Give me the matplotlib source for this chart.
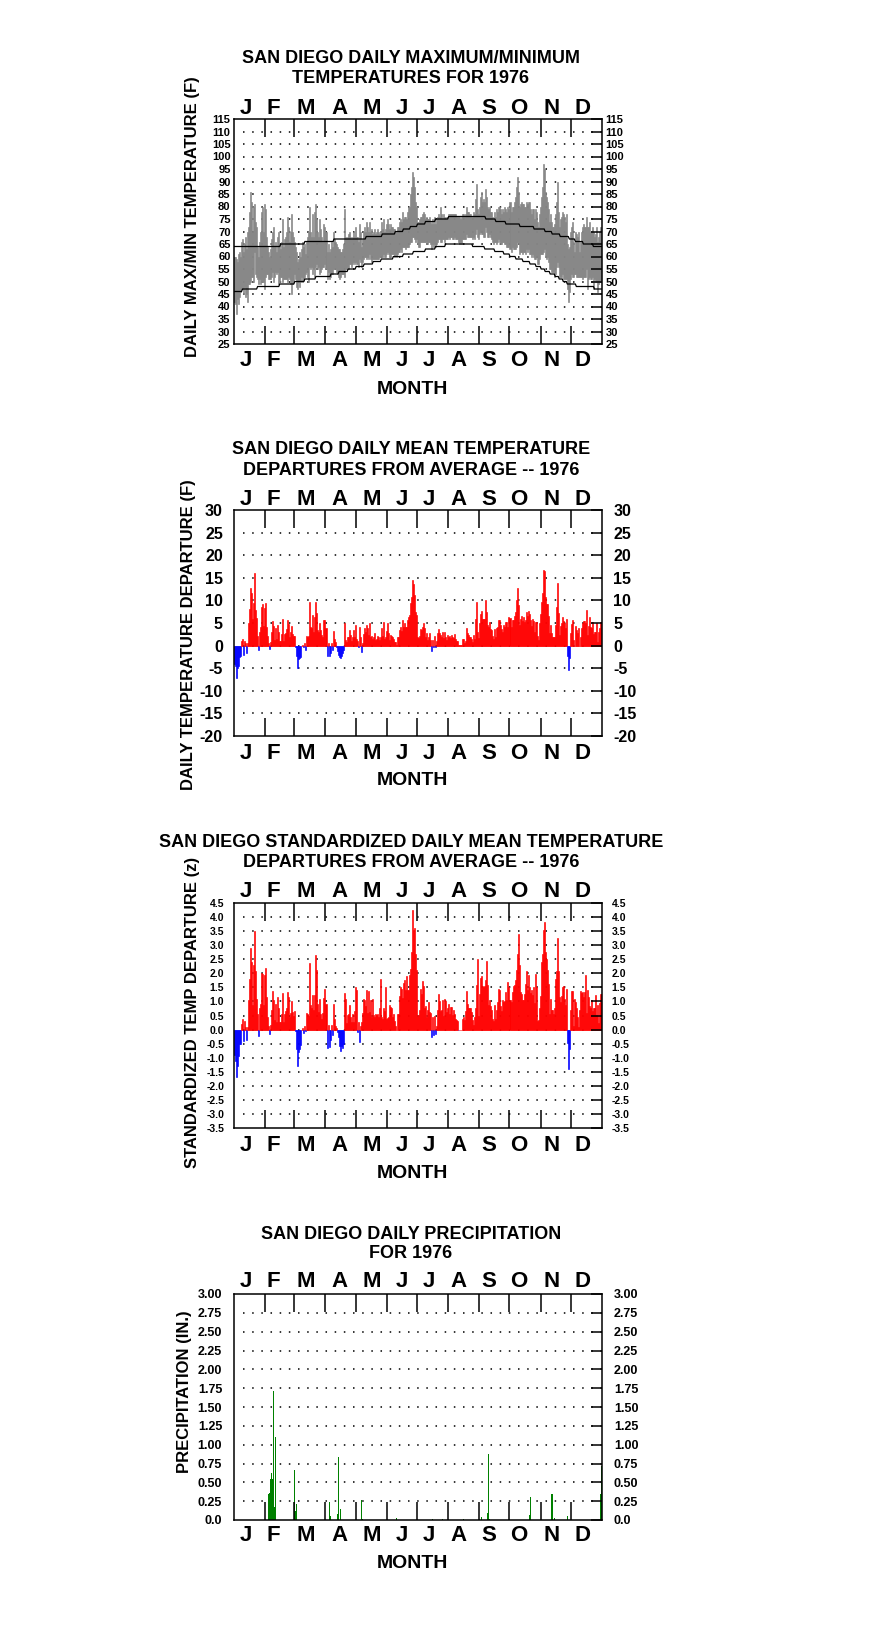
import numpy as np
import matplotlib
matplotlib.use("Agg")
import matplotlib.pyplot as plt

W, H, DPI = 876, 1634, 100

# ---------------- data (1976, one value per day) ----------------
month_letters = ["J", "F", "M", "A", "M", "J", "J", "A", "S", "O", "N", "D"]
month_days = [31, 29, 31, 30, 31, 30, 31, 31, 30, 31, 30, 31]

temp_max = [
    60, 60, 59, 58, 61, 62, 60, 66, 67, 62, 65, 68, 63, 70, 72, 78, 86, 82, 70, 80, 81, 74, 72, 64, 60, 66, 70, 78, 80, 70, 81,
    79, 68, 64, 62, 60, 63, 67, 70, 72, 64, 66, 62, 68, 70, 65, 63, 66, 75, 64, 67, 68, 70, 76, 72, 66, 70, 77, 70, 68,
    66, 64, 62, 58, 59, 62, 60, 63, 66, 64, 65, 61, 66, 68, 70, 80, 70, 68, 77, 68, 78, 81, 75, 70, 68, 75, 71, 68, 66, 73, 72,
    70, 62, 65, 62, 63, 66, 64, 70, 67, 66, 65, 64, 63, 63, 62, 62, 63, 65, 79, 68, 67, 68, 69, 70, 68, 67, 68, 70, 68, 72,
    68, 68, 66, 73, 70, 64, 67, 70, 72, 70, 74, 72, 70, 74, 70, 71, 69, 70, 71, 69, 70, 71, 70, 69, 70, 74, 71, 75, 70, 71, 73,
    75, 73, 71, 73, 72, 72, 71, 71, 70, 70, 72, 72, 74, 75, 74, 78, 75, 76, 76, 75, 78, 80, 80, 85, 88, 94, 92, 88, 82, 80,
    74, 74, 75, 76, 76, 77, 78, 77, 75, 76, 75, 75, 76, 74, 73, 75, 73, 76, 73, 75, 76, 77, 76, 80, 77, 75, 77, 76, 75, 76, 76,
    77, 77, 77, 77, 77, 77, 77, 77, 76, 76, 76, 76, 75, 76, 77, 77, 76, 77, 80, 78, 78, 77, 77, 76, 76, 78, 77, 83, 89, 79, 77,
    80, 84, 86, 82, 83, 82, 87, 84, 80, 79, 80, 78, 78, 76, 75, 78, 76, 79, 78, 80, 80, 79, 77, 79, 78, 80, 79, 78, 80, 79,
    82, 78, 80, 80, 82, 84, 88, 92, 86, 80, 81, 82, 81, 81, 80, 80, 82, 81, 82, 82, 79, 77, 79, 79, 75, 79, 78, 74, 72, 77, 80,
    84, 88, 97, 95, 86, 84, 82, 79, 74, 77, 74, 72, 72, 73, 77, 82, 90, 78, 72, 75, 76, 78, 77, 76, 74, 77, 65, 63, 64, 70,
    72, 74, 66, 62, 70, 69, 68, 70, 62, 66, 70, 72, 73, 72, 72, 76, 72, 72, 74, 70, 70, 72, 70, 68, 69, 72, 66, 68, 70, 72, 72,
]
temp_min = [
    42, 41, 37, 43, 41, 44, 46, 47, 47, 45, 48, 44, 45, 42, 49, 49, 50, 52, 52, 50, 62, 53, 52, 51, 49, 51, 49, 50, 50, 50, 47,
    52, 53, 53, 51, 51, 51, 52, 54, 50, 52, 54, 53, 54, 49, 50, 52, 52, 50, 51, 51, 51, 51, 50, 52, 51, 49, 45, 49, 50,
    53, 51, 48, 47, 50, 48, 50, 52, 50, 51, 52, 53, 54, 52, 50, 56, 55, 56, 53, 55, 52, 56, 57, 55, 56, 53, 54, 55, 56, 56, 57,
    55, 51, 54, 51, 52, 53, 53, 55, 55, 55, 54, 53, 52, 51, 52, 53, 53, 53, 52, 55, 55, 56, 55, 57, 57, 56, 57, 58, 57, 58,
    57, 57, 56, 59, 58, 56, 58, 59, 60, 60, 59, 60, 59, 61, 59, 58, 59, 59, 59, 59, 59, 59, 59, 60, 60, 60, 60, 61, 60, 60, 61,
    62, 61, 60, 60, 61, 61, 61, 60, 61, 60, 61, 62, 62, 63, 62, 64, 64, 64, 63, 64, 64, 64, 65, 66, 66, 68, 68, 67, 66, 67,
    65, 64, 64, 66, 66, 66, 66, 66, 66, 66, 65, 66, 66, 65, 63, 65, 64, 65, 64, 65, 66, 67, 67, 66, 66, 67, 67, 66, 67, 67, 67,
    68, 67, 68, 68, 67, 67, 68, 67, 67, 67, 66, 65, 66, 65, 67, 67, 67, 67, 69, 68, 68, 68, 68, 68, 67, 68, 67, 69, 71, 68, 67,
    69, 70, 69, 69, 68, 68, 72, 70, 68, 68, 69, 68, 67, 66, 65, 66, 66, 65, 66, 67, 66, 65, 65, 66, 66, 65, 65, 64, 64, 64,
    63, 62, 64, 63, 63, 63, 64, 66, 65, 61, 62, 62, 61, 62, 62, 61, 63, 62, 63, 61, 61, 60, 61, 60, 59, 59, 60, 57, 57, 59, 61,
    61, 61, 62, 63, 60, 59, 60, 58, 55, 55, 54, 54, 54, 52, 53, 56, 58, 56, 52, 52, 52, 53, 51, 51, 51, 51, 47, 42, 46, 51,
    53, 52, 52, 53, 53, 52, 52, 52, 52, 52, 52, 51, 52, 52, 52, 55, 47, 51, 52, 51, 51, 52, 47, 51, 50, 50, 46, 49, 50, 50, 50,
]
# normal high / low read as a step curve: (value, number of days), month by month
normal_max_runs = [
    (64, 31),
    (64, 15), (65, 14),
    (65, 10), (66, 21),
    (66, 8), (67, 22),
    (67, 10), (68, 16), (69, 5),
    (69, 8), (70, 8), (71, 7), (72, 7),
    (73, 8), (74, 10), (75, 13),
    (76, 31),
    (76, 6), (75, 10), (74, 10), (73, 4),
    (73, 10), (72, 14), (71, 7),
    (71, 4), (70, 7), (69, 8), (68, 9), (67, 2),
    (67, 4), (66, 8), (65, 10), (64, 9),
]
normal_min_runs = [
    (46, 8), (47, 15), (48, 8),
    (48, 14), (49, 15),
    (50, 10), (51, 11), (52, 10),
    (52, 5), (53, 8), (54, 9), (55, 8),
    (56, 8), (57, 9), (58, 8), (59, 6),
    (59, 6), (60, 10), (61, 10), (62, 4),
    (62, 8), (63, 10), (64, 10), (65, 3),
    (65, 24), (64, 7),
    (64, 5), (63, 10), (62, 9), (61, 6),
    (60, 6), (59, 7), (58, 7), (57, 6), (56, 5),
    (55, 4), (54, 5), (53, 5), (52, 4), (51, 4), (50, 4), (49, 4),
    (49, 5), (48, 18), (47, 8),
]
# daily mean temperature departure from average (F)
depart_f = [
    -4.0, -4.6, -7.1, -5.0, -4.5, -2.5, -2.3, 1.0, 1.5, -2.0, 1.0, 0.5, -1.7, 0.5, 5.0, 8.0, 12.7, 11.6, 5.9, 9.4, 16.1, 7.9, 6.2, 2.1, -1.0, 3.1, 4.2, 8.6, 9.2, 4.3, 8.3,
    9.4, 4.1, 2.1, 0.5, -0.7, 0.9, 3.0, 5.5, 4.4, 1.3, 3.8, 1.4, 4.6, 3.1, 1.1, 1.1, 2.6, 5.9, 1.1, 2.6, 2.7, 3.6, 5.7, 4.8, 1.8, 2.9, 4.4, 2.5, 2.1,
    2.1, -0.3, -2.4, -4.9, -3.0, -2.8, -2.6, 0.0, 0.2, -0.2, 0.5, -1.0, 2.1, 2.0, 2.1, 9.7, 4.2, 3.8, 6.8, 3.0, 6.4, 9.7, 7.2, 3.5, 2.9, 4.9, 3.5, 2.4, 2.0, 5.7, 5.7,
    3.8, -2.4, 0.5, -2.4, -1.7, 0.5, -1.0, 3.3, 1.5, 0.9, -0.2, -1.1, -2.0, -2.6, -2.8, -2.4, -1.7, -1.0, 5.0, 1.3, 0.9, 2.0, 2.0, 3.5, 2.4, 1.1, 2.0, 3.5, 2.0, 4.6,
    1.4, 1.1, -0.4, 4.1, 2.0, -1.5, 0.5, 2.6, 3.8, 3.1, 4.6, 3.8, 2.4, 5.1, 2.0, 2.1, 1.4, 1.8, 2.7, 1.3, 1.5, 2.1, 1.8, 1.3, 1.8, 4.0, 2.2, 5.3, 1.4, 1.8, 3.3,
    4.9, 2.7, 1.3, 2.4, 2.1, 2.0, 1.4, 0.9, 0.9, 0.1, 1.8, 1.8, 3.5, 4.2, 3.3, 5.7, 4.1, 4.9, 4.1, 4.1, 5.7, 6.3, 6.8, 9.4, 10.8, 14.5, 13.7, 11.2, 7.5, 6.8,
    1.8, 1.6, 2.1, 3.6, 3.5, 4.1, 4.9, 3.8, 2.0, 2.7, 1.3, 1.8, 2.7, 1.3, -1.1, 1.3, -0.4, 2.1, -0.4, 1.1, 2.7, 3.6, 2.7, 2.4, 1.8, 3.1, 1.6, 3.1, 2.0, 1.3, 2.4,
    2.0, 2.1, 1.6, 2.4, 2.0, 1.6, 2.5, 1.4, 1.1, 1.1, 0.1, 0.1, 0.1, 0.1, 1.4, 1.4, 0.5, 1.1, 4.0, 2.7, 2.4, 2.0, 2.0, 1.4, 0.9, 2.4, 1.5, 5.8, 9.7, 3.1, 1.6,
    4.9, 7.0, 7.7, 5.8, 5.8, 5.8, 10.1, 7.5, 4.6, 4.1, 5.3, 3.6, 3.4, 2.1, 1.4, 3.6, 2.0, 4.0, 4.1, 5.7, 5.7, 4.6, 3.6, 2.9, 4.6, 4.1, 5.3, 5.3, 4.1, 6.3,
    6.1, 4.1, 5.7, 5.7, 6.5, 7.5, 10.1, 12.7, 9.0, 4.6, 5.8, 6.5, 5.5, 6.3, 5.3, 5.7, 7.5, 6.5, 7.7, 7.0, 5.7, 4.4, 5.9, 5.5, 2.9, 5.3, 5.2, 2.1, 1.3, 4.9, 7.0,
    9.7, 11.7, 16.7, 16.5, 10.8, 9.2, 9.2, 6.6, 2.7, 4.6, 2.7, 2.0, 2.0, 2.0, 4.6, 8.6, 13.8, 7.2, 2.4, 4.3, 5.0, 6.4, 5.5, 4.9, 4.0, 5.8, -2.2, -5.5, -2.8, 2.7,
    4.8, 5.7, 1.3, 0.0, 4.3, 3.4, 2.7, 4.0, 0.0, 2.0, 3.8, 4.9, 5.5, 5.5, 4.9, 7.9, 2.4, 4.3, 6.3, 4.1, 4.0, 5.3, 2.6, 3.1, 3.1, 4.9, 0.9, 3.1, 3.8, 5.3, 5.3,
]
# standardized departure (z)
depart_z = [
    -0.9, -1.1, -1.7, -1.3, -0.95, -0.5, -0.5, 0.2, 0.37, -0.4, 0.3, 0.1, -0.38, 0.1, 1.04, 1.8, 2.9, 2.4, 0.86, 2.3, 3.5, 2.1, 1.1, 0.55, -0.24, 0.78, 0.9, 2.0, 1.96, 0.86, 1.93,
    2.2, 1.16, 0.45, 0.12, -0.14, 0.15, 0.7, 1.36, 1.04, 0.33, 0.92, 0.27, 1.16, 0.75, 0.27, 0.27, 0.57, 1.3, 0.27, 0.57, 0.66, 0.78, 1.34, 1.16, 0.45, 0.6, 1.0, 0.63, 0.5,
    0.66, -0.05, -0.68, -1.3, -0.8, -0.68, -0.56, 0.0, 0.07, -0.12, 0.12, -0.05, 0.6, 0.55, 0.5, 2.35, 0.86, 0.78, 1.22, 0.69, 1.22, 2.64, 2.13, 0.92, 0.63, 1.07, 0.57, 0.39, 0.59, 1.14, 1.46,
    0.92, -0.64, 0.15, -0.62, -0.38, 0.15, -0.2, 0.9, 0.36, 0.12, 0.07, -0.08, -0.26, -0.6, -0.76, -0.6, -0.64, -0.5, 1.3, 1.1, 0.24, 0.51, 0.55, 0.86, 0.45, 0.27, 0.55, 0.27, 0.66, 1.5,
    1.4, -0.08, 0.27, -0.44, 0.12, 0.27, 0.59, 1.07, 1.04, 0.83, 1.42, 0.59, 1.37, 0.63, 1.04, 0.45, 1.07, 0.51, 0.45, 0.55, 0.51, 0.57, 0.45, 0.78, 1.8, 0.45, 0.39, 0.78, 0.66, 1.5, 0.39,
    0.42, 0.45, 0.86, 0.8, 0.78, 0.45, 0.55, 0.31, 0.12, 0.0, 0.55, 0.55, 1.18, 1.5, 1.43, 1.14, 1.64, 1.76, 1.4, 1.9, 1.4, 1.4, 1.93, 2.17, 2.76, 4.25, 3.55, 3.6, 2.68, 2.13,
    0.5, 0.53, 0.69, 1.46, 1.26, 1.72, 1.54, 0.78, 0.83, 0.45, 0.71, 0.98, 0.63, 0.6, -0.28, 0.45, -0.2, 0.47, -0.14, 0.12, 0.69, 1.26, 1.02, 0.66, 0.71, 1.04, 0.47, 1.07, 1.01, 0.63, 0.75,
    0.92, 0.57, 0.8, 0.81, 0.51, 0.69, 0.54, 0.39, 0.33, 0.31, -0.02, 0.0, 0.0, 0.0, 0.39, 0.45, 0.33, 0.65, 1.36, 0.9, 0.75, 0.78, 0.77, 0.63, 0.33, 0.15, 0.45, 0.75, 1.6, 2.52, 0.47,
    1.26, 1.85, 1.9, 1.54, 1.52, 1.54, 1.78, 2.44, 1.57, 0.86, 1.04, 0.83, 0.71, 0.39, 0.31, 0.86, 0.36, 0.69, 0.98, 1.46, 1.42, 0.83, 0.66, 1.04, 0.98, 1.02, 1.34, 1.04, 1.69, 1.52,
    1.04, 0.98, 1.34, 1.54, 1.57, 1.75, 2.13, 2.7, 3.41, 2.29, 1.34, 1.28, 1.04, 1.04, 1.26, 1.63, 2.1, 1.42, 1.93, 1.52, 1.3, 1.4, 1.22, 1.52, 0.95, 1.97, 1.52, 0.31, 0.33, 0.75, 1.18,
    2.4, 2.7, 3.53, 3.83, 2.76, 2.52, 2.13, 1.63, 0.57, 1.1, 0.71, 0.71, 0.57, 0.75, 1.81, 2.09, 3.27, 2.09, 1.16, 0.98, 1.2, 1.52, 1.55, 1.1, 0.89, 1.46, -0.47, -1.41, -0.68, 0.69,
    1.37, 1.37, 0.12, 1.1, 0.98, 0.78, 0.45, 0.1, 0.69, 1.36, 1.3, 1.34, 1.16, 1.34, 1.93, 0.59, 1.42, 1.16, 0.83, 0.75, 1.04, 0.66, 0.77, 0.76, 1.22, 0.51, 0.87, 0.24, 0.95, 1.28, 1.28,
]
# days with precipitation (day of year, 0 = Jan 1) and amount in inches
precip_day = [34, 35, 36, 37, 38, 39, 40, 41, 60, 61, 62, 94, 95, 102, 103, 105, 126, 127, 161,
              197, 207, 228, 246, 252, 253, 254, 293, 294, 315, 316, 318, 331, 364, 365]
precip_in = [0.34, 0.36, 0.55, 0.62, 0.55, 1.71, 0.17, 1.10, 0.67, 0.12, 0.21, 0.24, 0.05, 0.08, 0.83, 0.15, 0.26, 0.01, 0.02,
             0.01, 0.01, 0.01, 0.04, 0.09, 0.87, 0.01, 0.07, 0.31, 0.34, 0.34, 0.02, 0.05, 0.35, 0.72]

normal_max = np.repeat([v for v, n in normal_max_runs], [n for v, n in normal_max_runs])
normal_min = np.repeat([v for v, n in normal_min_runs], [n for v, n in normal_min_runs])

for name, series in [("temp_max", temp_max), ("temp_min", temp_min), ("normal_max", normal_max),
                     ("normal_min", normal_min), ("depart_f", depart_f), ("depart_z", depart_z)]:
    assert len(series) == 366, (name, len(series))

# ---------------- figure ----------------
plt.rcParams['font.family'] = ['Liberation Sans', 'DejaVu Sans']
plt.rcParams['font.weight'] = 'bold'

fig = plt.figure(figsize=(W / DPI, H / DPI), dpi=DPI)

edges = np.concatenate([[0], np.cumsum(month_days)])
days = np.arange(edges[-1])
month_x_px = [245.5, 273.5, 305.5, 339, 371.5, 402, 429, 458.5, 489, 519, 551.5, 582.5]


def put(x, y, s, size, **kw):
    # x, y in pixels from the top-left corner, y is the centre of capital letters
    base = y + 0.358 * size * DPI / 72
    fig.text(x / W, 1 - base / H, s, fontsize=size, fontweight='bold',
             ha='center', va='baseline', **kw)


def panel(top, bottom, ylim, ticks, labels, tsize, pad, title, ylabel, lay):
    ax = fig.add_axes([234 / W, 1 - bottom / H, 368 / W, (bottom - top) / H])
    ax.set_xlim(0, edges[-1])
    ax.set_ylim(*ylim)
    for sp in ax.spines.values():
        sp.set_linewidth(1.1)
    ax.set_xticks(edges[1:-1])
    ax.tick_params(axis='x', direction='in', length=13, width=1.1,
                   top=True, bottom=True, labelbottom=False)
    ax.set_yticks(ticks)
    ax.set_yticklabels(labels)
    ax.tick_params(axis='y', direction='in', length=8, width=1.1, left=False, right=True,
                   labelleft=True, labelright=True, labelsize=tsize, pad=pad)
    ax.hlines(ticks[1:-1], 9, edges[-1], colors='black', linestyles=(0, (1, 5)),
              linewidth=1.1, zorder=0.5)

    t1, t2, ym_top, ym_bot, y_month, ylx, yly = lay
    put(411, t1, title[0], 13)
    put(411, t2, title[1], 13)
    for xm, m in zip(month_x_px, month_letters):
        put(xm, ym_top, m, 16)
        put(xm, ym_bot, m, 16)
    put(412, y_month, "MONTH", 14)
    fig.text(ylx / W, 1 - yly / H, ylabel, fontsize=12, fontweight='bold',
             rotation=90, ha='center', va='center')
    return ax


def solid_bars(ax, x, y, colors, bottom=None):
    # edge in the face colour so neighbouring one-day bars close up
    ax.bar(x, y, bottom=bottom, width=1.0, align='edge', color=colors,
           edgecolor=colors, linewidth=0.45)


# panel 1: daily max / min temperatures
ax1 = panel(119, 344, (25, 115), list(range(25, 116, 5)), [str(v) for v in range(25, 116, 5)],
            8, 2.5, ("SAN DIEGO DAILY MAXIMUM/MINIMUM", "TEMPERATURES FOR 1976"),
            "DAILY MAX/MIN TEMPERATURE (F)", (57, 77, 106, 358, 387, 193, 217))
lo = np.array(temp_min)
hi = np.array(temp_max)
solid_bars(ax1, days, hi - lo, '#858585', bottom=lo)
ax1.plot(days + 0.5, normal_max, color='black', linewidth=0.9)
ax1.plot(days + 0.5, normal_min, color='black', linewidth=0.9)

# panel 2: departures in F
ticks2 = list(range(-20, 31, 5))
ax2 = panel(510, 736, (-20, 30), ticks2, [str(v) for v in ticks2], 11.5, 8,
            ("SAN DIEGO DAILY MEAN TEMPERATURE", "DEPARTURES FROM AVERAGE -- 1976"),
            "DAILY TEMPERATURE DEPARTURE (F)", (448, 469, 497, 751, 778, 188, 635))
d2 = np.array(depart_f)
solid_bars(ax2, days, d2, np.where(d2 >= 0, '#ff0000', '#0000ff'))

# panel 3: standardized departures
ticks3 = list(np.arange(-3.5, 4.51, 0.5))
ax3 = panel(903, 1128, (-3.5, 4.5), ticks3, ["%.1f" % v for v in ticks3], 7.5, 7,
            ("SAN DIEGO STANDARDIZED DAILY MEAN TEMPERATURE", "DEPARTURES FROM AVERAGE -- 1976"),
            "STANDARDIZED TEMP DEPARTURE (z)", (841, 861, 889, 1143, 1171, 193, 1012))
d3 = np.array(depart_z)
solid_bars(ax3, days, d3, np.where(d3 >= 0, '#ff0000', '#0000ff'))

# panel 4: precipitation
ticks4 = list(np.arange(0, 3.01, 0.25))
ax4 = panel(1294, 1520, (0, 3), ticks4, ["0.0"] + ["%.2f" % v for v in ticks4[1:]], 9, 8.5,
            ("SAN DIEGO DAILY PRECIPITATION", "FOR 1976"),
            "PRECIPITATION (IN.)", (1233, 1252, 1279, 1533, 1561, 185, 1392))
ax4.bar(precip_day, precip_in, width=1.0, align='edge', color='#008000', linewidth=0)

fig.savefig("out.png", dpi=DPI)
